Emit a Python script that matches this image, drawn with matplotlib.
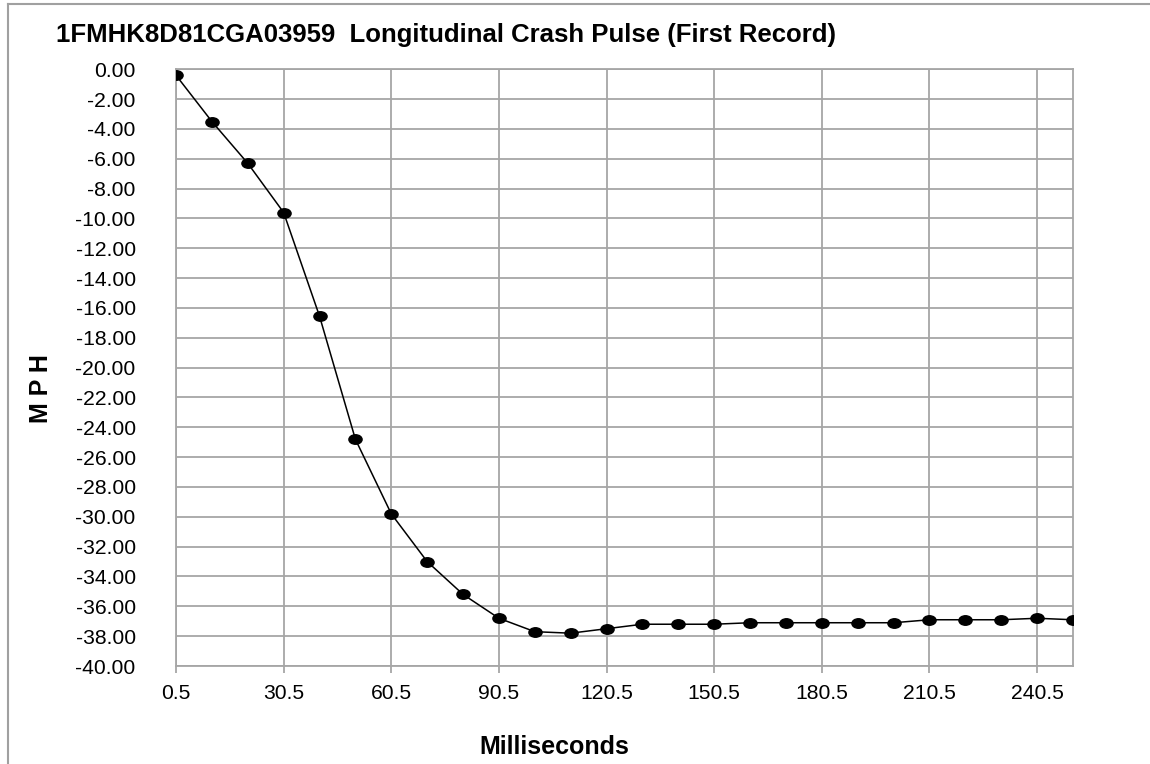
import numpy as np
import matplotlib
matplotlib.use('Agg')
import matplotlib.pyplot as plt
from matplotlib.path import Path
from matplotlib.transforms import Affine2D
from matplotlib.lines import Line2D
from matplotlib.ticker import FormatStrFormatter, MultipleLocator

plt.rcParams['font.family'] = ['Liberation Sans', 'DejaVu Sans']

# data (ms, mph)
ms = [0.5, 10.5, 20.5, 30.5, 40.5, 50.5, 60.5, 70.5, 80.5, 90.5,
      100.5, 110.5, 120.5, 130.5, 140.5, 150.5, 160.5, 170.5, 180.5, 190.5,
      200.5, 210.5, 220.5, 230.5, 240.5, 250.5]
mph = [-0.4, -3.5, -6.3, -9.6, -16.55, -24.8, -29.8, -33.0, -35.2, -36.8,
       -37.7, -37.8, -37.5, -37.2, -37.2, -37.2, -37.1, -37.1, -37.1, -37.1,
       -37.1, -36.9, -36.9, -36.9, -36.8, -36.9]

title = '1FMHK8D81CGA03959  Longitudinal Crash Pulse (First Record)'
xlabel = 'Milliseconds'
ylabel = 'M P H'

W, H = 1150, 764
fig = plt.figure(figsize=(W / 100, H / 100), dpi=100)
ax = fig.add_axes([176 / W, 1 - 666 / H, (1073 - 176) / W, (666 - 69.3) / H])

grid_c = '#a6a6a6'
oval = Path.unit_circle().transformed(Affine2D().scale(1.0, 0.72))
ax.plot(ms, mph, color='black', lw=1.1, marker=oval, markersize=9.5,
        markerfacecolor='black', markeredgecolor='black', zorder=3)

ax.set_xlim(0.5, 250.5)
ax.set_ylim(-40, 0)
ax.xaxis.set_major_locator(MultipleLocator(30, offset=0.5))
ax.xaxis.set_major_formatter(FormatStrFormatter('%.1f'))
ax.yaxis.set_major_locator(MultipleLocator(2))
ax.yaxis.set_major_formatter(FormatStrFormatter('%.2f'))

ax.grid(True, color=grid_c, lw=1.3)
ax.set_axisbelow(True)
for s in ax.spines.values():
    s.set_color(grid_c)
    s.set_linewidth(1.3)

ax.tick_params(axis='x', length=5, width=1.3, color=grid_c, pad=8, labelsize=15.2)
ax.tick_params(axis='y', length=0, pad=29, labelsize=15.2)

fig.text(56 / W, 1 - 42 / H, title, fontsize=18.5, fontweight='bold', ha='left', va='baseline')
fig.text(554 / W, 1 - 754 / H, xlabel, fontsize=18, fontweight='bold', ha='center', va='baseline')
fig.text(41 / W, 1 - 389 / H, ylabel, fontsize=18, fontweight='bold', ha='center', va='center', rotation=90)

# outer chart border (left and top)
fig.add_artist(Line2D([7.5 / W, 7.5 / W], [0, 1 - 4 / H], color='#a0a0a0', lw=1.5))
fig.add_artist(Line2D([7.5 / W, 1], [1 - 4 / H, 1 - 4 / H], color='#a0a0a0', lw=1.5))

fig.savefig('out.png', dpi=100)
